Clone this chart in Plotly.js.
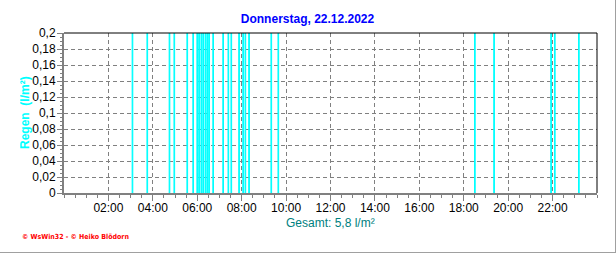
<!DOCTYPE html>
<html>
<head>
<meta charset="utf-8">
<script src="https://cdn.plot.ly/plotly-3.0.1.min.js"></script>
<style>
  html, body { margin: 0; padding: 0; background: #ffffff; }
  #wrap { width: 615px; height: 252px; border-right: 1px solid #a0a0a0; border-bottom: 1px solid #a0a0a0; overflow: hidden; }
  #chart { width: 615px; height: 252px; }
</style>
</head>
<body>
<div id="wrap"><div id="chart"></div></div>
<script>
// Rain events (time of day, l/m² per interval)
const rainTimes = [
  "03:05", "03:45", "04:45", "04:58", "05:33", "05:49",
  "06:00", "06:05", "06:11", "06:16", "06:22", "06:27", "06:32", "06:43",
  "07:10", "07:24", "07:32", "07:53", "08:04", "08:10", "08:20",
  "09:20", "09:39", "18:30", "19:22", "21:56", "22:06", "23:11"
];
const rainValues = [
  0.2, 0.2, 0.2, 0.2, 0.2, 0.2,
  0.2, 0.2, 0.2, 0.2, 0.2, 0.2, 0.2, 0.2,
  0.2, 0.2, 0.2, 0.2, 0.2, 0.2, 0.2,
  0.2, 0.2, 0.2, 0.2, 0.2, 0.2, 0.2
];
const xTickLabels = ["02:00", "04:00", "06:00", "08:00", "10:00", "12:00",
                     "14:00", "16:00", "18:00", "20:00", "22:00"];
const yTickValues = [0, 0.02, 0.04, 0.06, 0.08, 0.1, 0.12, 0.14, 0.16, 0.18, 0.2];
const day = "2022-12-22";
const titleText = "Donnerstag, 22.12.2022";
const yTitleText = "Regen  (l/m²)";
const totalText = "Gesamt: 5,8 l/m²";
const creditText = "© WsWin32 - © Heiko Blödorn";

const xs = rainTimes.map(t => day + " " + t);
const tickVals = xTickLabels.map(t => day + " " + t);

const font = "Arial, 'Liberation Sans', sans-serif";

const trace = {
  type: "bar",
  x: xs,
  y: rainValues,
  width: 110000,
  marker: { color: "#00ffff", line: { color: "#00ffff", width: 1 } },
  hoverinfo: "x+y"
};

const layout = {
  width: 615, height: 252,
  margin: { l: 64, r: 18, t: 33, b: 59 },
  paper_bgcolor: "#ffffff",
  plot_bgcolor: "#ffffff",
  separators: ",.",
  showlegend: false,
  font: { family: font, size: 12, color: "#000000" },
  title: {
    text: "<b>" + titleText + "</b>",
    font: { family: font, size: 12, color: "#0000ff" },
    x: 0.5, xanchor: "center", xref: "container",
    y: 1 - 19 / 252, yanchor: "middle", yref: "container"
  },
  xaxis: {
    type: "date",
    range: [day + " 00:00", "2022-12-23 00:00"],
    tickvals: tickVals,
    ticktext: xTickLabels,
    showgrid: true,
    gridcolor: "#808080",
    griddash: "4px,3px",
    gridwidth: 1,
    showline: true,
    linecolor: "#808080",
    linewidth: 2,
    ticks: "outside",
    ticklen: 6,
    ticklabelstandoff: -3,
    tickcolor: "#808080",
    tickwidth: 1,
    tickfont: { family: font, size: 12, color: "#000000" },
    minor: { dtick: 1800000, ticks: "outside", ticklen: 3, tickcolor: "#808080", showgrid: false },
    zeroline: false,
    fixedrange: true
  },
  yaxis: {
    range: [0, 0.2],
    tickvals: yTickValues,
    showgrid: true,
    gridcolor: "#808080",
    griddash: "4px,3px",
    gridwidth: 1,
    showline: true,
    linecolor: "#808080",
    linewidth: 2,
    ticks: "outside",
    ticklen: 5,
    ticklabelstandoff: -1,
    tickcolor: "#808080",
    tickwidth: 1,
    tickfont: { family: font, size: 12, color: "#000000" },
    minor: { dtick: 0.005, ticks: "outside", ticklen: 2, tickcolor: "#808080", showgrid: false },
    zeroline: false,
    fixedrange: true
  },
  shapes: [
    { type: "line", xref: "paper", yref: "paper", x0: 0, x1: 1, y0: 1, y1: 1, line: { color: "#000000", width: 1 } },
    { type: "line", xref: "paper", yref: "paper", x0: 1, x1: 1, y0: 0, y1: 1, line: { color: "#000000", width: 1 } }
  ],
  annotations: [
    {
      text: "<b>" + yTitleText + "</b>", xref: "paper", yref: "paper",
      x: -39 / 533, y: 0.5, xanchor: "center", yanchor: "middle",
      textangle: -90, showarrow: false,
      font: { family: font, size: 12, color: "#00ffff" }
    },
    {
      text: totalText, xref: "paper", yref: "paper", x: 0.5, y: -0.19,
      xanchor: "center", yanchor: "middle", showarrow: false,
      font: { family: font, size: 12, color: "#008080" }
    },
    {
      text: "<b>" + creditText + "</b>", xref: "paper", yref: "paper", x: -0.082, y: -0.275,
      xanchor: "left", yanchor: "middle", showarrow: false,
      font: { family: "'DejaVu Sans Condensed', 'DejaVu Sans', sans-serif", size: 7, color: "#ff0000" }
    }
  ]
};

Plotly.newPlot("chart", [trace], layout, { displayModeBar: false, staticPlot: true });
</script>
</body>
</html>
